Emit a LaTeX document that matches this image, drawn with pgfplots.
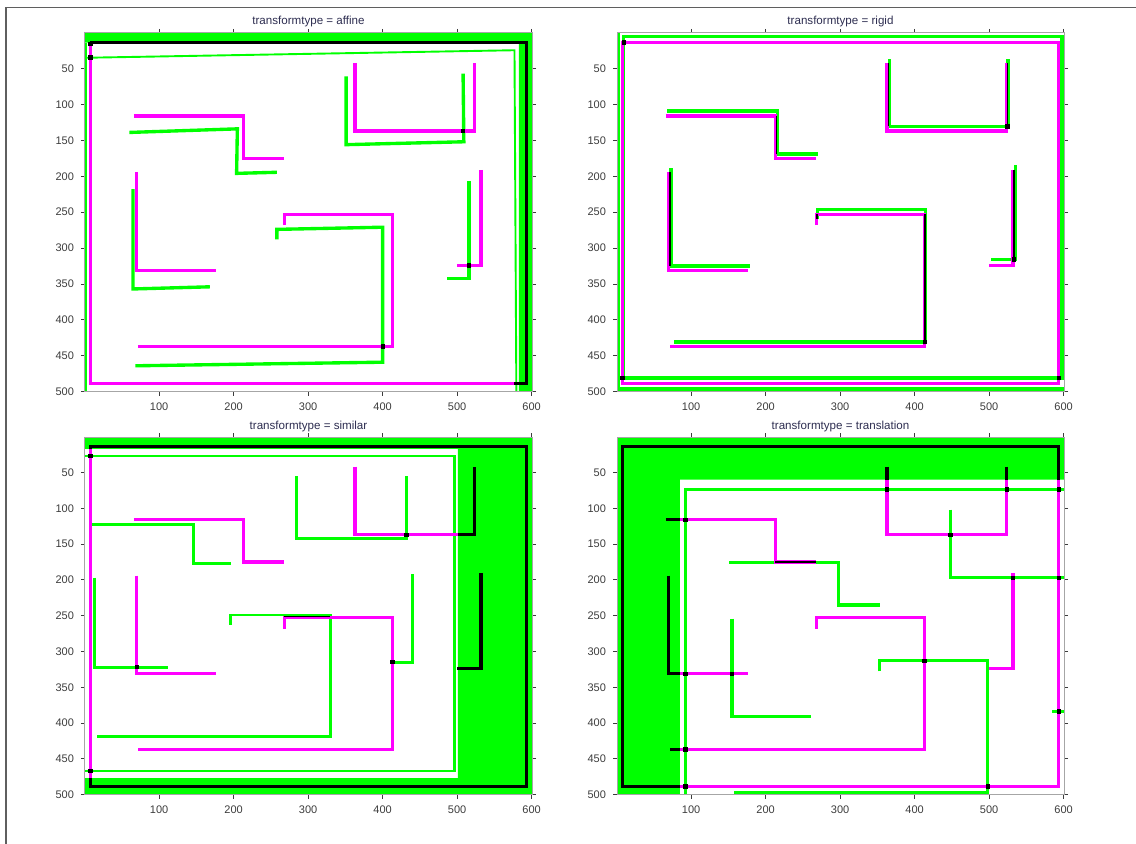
\documentclass[border=0pt]{standalone}
\usepackage{pgfplots}
\pgfplotsset{compat=1.18}
\usepackage{fontspec}
\setmainfont{Liberation Sans}
\definecolor{fg}{RGB}{0,255,0}
\definecolor{mg}{RGB}{255,0,255}
\definecolor{tickc}{RGB}{60,60,60}
\definecolor{titc}{RGB}{45,45,80}
\definecolor{framec}{RGB}{95,95,95}
\pgfplotsset{
  every axis title shift=0pt,
  mazeax/.style={
    scale only axis, width=223.5pt,
    xmin=0.5, xmax=600.5, ymin=0.5, ymax=500.5, y dir=reverse,
    xtick={100,200,300,400,500,600}, ytick={50,100,150,200,250,300,350,400,450,500},
    tick align=outside, xtick pos=both, ytick pos=both,
    xticklabel pos=left, yticklabel pos=left,
    major tick length=2pt,
    tick style={color=tickc, line width=0.4pt},
    axis line style={color=gray!70, line width=0.5pt},
    axis on top=true,
    tick label style={font=\fontsize{5.5pt}{6pt}\selectfont, color=tickc},
    /pgf/number format/assume math mode=true,
    title style={font=\fontsize{5.8pt}{6pt}\selectfont, color=titc, at={(axis description cs:0.5,1)}, anchor=base, yshift=4pt, inner sep=0pt},
  },
  gl/.style={color=fg, line width=1.68pt, line join=miter, mark=none},
  gt/.style={color=fg, line width=0.95pt, line join=miter, mark=none},
  gm/.style={color=fg, line width=1.4pt, line join=miter, mark=none},
  ml/.style={color=mg, line width=1.68pt, line join=miter, mark=none},
  bl/.style={color=black, line width=1.68pt, line join=miter, mark=none},
  bs/.style={color=black, line width=0.6pt, mark=none},
  bd/.style={only marks, mark=square*, mark size=0.85pt, color=black, mark options={draw=none, fill=black}},
  gf/.style={fill=fg, draw=none, mark=none},
}
\begin{document}
\begin{tikzpicture}
\useasboundingbox (0,0) rectangle (568pt,-422pt);
\draw[color=framec, line width=0.6pt] (3pt,-422pt) -- (3pt,-3.6pt) -- (568pt,-3.6pt);

% ---------------- affine ----------------
\begin{axis}[mazeax, height=179.5pt, at={(42.5pt,-16.5pt)}, anchor=north west, title={transformtype = affine}]
\addplot[gf] coordinates {(0.5,0.5) (600.5,0.5) (600.5,500.5) (583,500.5) (583,14) (0.5,14)} -- cycle;
\addplot[gf] coordinates {(0.5,14) (3.5,14) (3.5,500.5) (0.5,500.5)} -- cycle;
\addplot[gt] coordinates {(0.5,35) (577,24.5) (579.5,500.5)};
\addplot[gl] coordinates {(351,61) (351,156) (509,152) (508,57)};
\addplot[gl] coordinates {(60,139) (205,134) (204,196) (258,194.5)};
\addplot[gl] coordinates {(65,218) (65,357) (168,354)};
\addplot[gl] coordinates {(258,288) (258,274) (400,271) (400,459) (68,464)};
\addplot[gl] coordinates {(516,207) (516,342) (486,342)};
\addplot[ml] coordinates {(577,488.5) (7.5,488.5) (7.5,13.5)};
\addplot[ml] coordinates {(363,42) (363,137) (523.5,137) (523.5,42)};
\addplot[ml] coordinates {(66,116) (213,116) (213,175) (268,175)};
\addplot[ml] coordinates {(70,194) (70,331) (176,331)};
\addplot[ml] coordinates {(268,268) (268,253) (413,253) (413,437) (72,437)};
\addplot[ml] coordinates {(532,191) (532,324) (500,324)};
\addplot[bl] coordinates {(7.5,13.5) (593.5,13.5) (593.5,488.5) (577,488.5)};
\addplot[bd] coordinates {(508,137) (516,324) (400,437) (7.5,34.5) (7.5,16)};
\end{axis}

% ---------------- rigid ----------------
\begin{axis}[mazeax, height=179.5pt, at={(308.5pt,-16.5pt)}, anchor=north west, title={transformtype = rigid}]
\addplot[gf] coordinates {(0.5,0.5) (4,0.5) (4,500.5) (0.5,500.5)} -- cycle;
\addplot[gf] coordinates {(0.5,493) (600.5,493) (600.5,500.5) (0.5,500.5)} -- cycle;
\addplot[gl] coordinates {(9.5,5.5) (598,5.5) (598,481) (9.5,481)} -- cycle;
\addplot[gl] coordinates {(366,37) (366,130.5) (525.5,130.5) (525.5,37)};
\addplot[gl] coordinates {(68,109) (216,109) (216,169) (270,169)};
\addplot[gl] coordinates {(73,189) (73,325) (179,325)};
\addplot[gl] coordinates {(270,260) (270,246) (415,246) (415,431) (77,431)};
\addplot[gl] coordinates {(535,184) (535,316) (503,316)};
\addplot[ml] coordinates {(7.5,13.5) (593.5,13.5) (593.5,488.5) (7.5,488.5)} -- cycle;
\addplot[ml] coordinates {(363,42) (363,137) (523.5,137) (523.5,42)};
\addplot[ml] coordinates {(66,116) (213,116) (213,175) (268,175)};
\addplot[ml] coordinates {(70,194) (70,331) (176,331)};
\addplot[ml] coordinates {(268,268) (268,253) (413,253) (413,437) (72,437)};
\addplot[ml] coordinates {(532,191) (532,324) (500,324)};
\addplot[bs] coordinates {(524.5,42) (524.5,130.5)};
\addplot[bs] coordinates {(364.5,42) (364.5,130.5)};
\addplot[bs] coordinates {(214.5,116) (214.5,169)};
\addplot[bs] coordinates {(71.5,194) (71.5,325)};
\addplot[bs] coordinates {(414,253) (414,431)};
\addplot[bs] coordinates {(533.5,191) (533.5,316)};
\addplot[bs] coordinates {(269,253) (269,260)};
\addplot[bd] coordinates {(9.5,13.5) (594,481) (7.5,481) (524.5,130.5) (414,431) (533.5,316)};
\end{axis}

% ---------------- similar ----------------
\begin{axis}[mazeax, height=179pt, at={(42.5pt,-218.5pt)}, anchor=north west, title={transformtype = similar}]
\addplot[gf] coordinates {(0.5,0.5) (600.5,0.5) (600.5,500.5) (0.5,500.5) (0.5,477) (501,477) (501,17) (0.5,17)} -- cycle;
\addplot[gm] coordinates {(-43,27) (497,27) (497,467) (-43,467)};
\addplot[gm] coordinates {(284,55) (284,142) (432,142) (432,55)};
\addplot[gm] coordinates {(9,123) (146,123) (146,177) (196,177)};
\addplot[gm] coordinates {(13,197) (13,322) (112,322)};
\addplot[gm] coordinates {(196,263) (196,249) (330,249) (330,419) (16,419)};
\addplot[gm] coordinates {(440,192) (440,315) (412,315)};
\addplot[bl] coordinates {(7.5,13.5) (593.5,13.5) (593.5,488.5) (7.5,488.5)} -- cycle;
\addplot[ml] coordinates {(7.5,17.5) (7.5,476.5)};
\addplot[ml] coordinates {(363,42) (363,137) (501,137)};
\addplot[ml] coordinates {(66,116) (213,116) (213,175) (268,175)};
\addplot[ml] coordinates {(70,194) (70,331) (176,331)};
\addplot[ml] coordinates {(268,268) (268,253) (413,253) (413,437) (72,437)};
\addplot[bl] coordinates {(501,137) (523.5,137) (523.5,42)};
\addplot[bl] coordinates {(532,191) (532,324) (500,324)};
\addplot[bs, line width=0.75pt] coordinates {(268,251) (330,251)};
\addplot[bd] coordinates {(432,137) (70,322) (413,315) (7.5,27) (7.5,467)};
\end{axis}

% ---------------- translation ----------------
\begin{axis}[mazeax, height=179pt, at={(308.5pt,-218.5pt)}, anchor=north west, title={transformtype = translation}]
\addplot[gf] coordinates {(0.5,0.5) (600.5,0.5) (600.5,60) (85,60) (85,500.5) (0.5,500.5)} -- cycle;
\addplot[gl] coordinates {(650,73.5) (92.5,73.5) (92.5,550)};
\addplot[gl] coordinates {(448,102) (448,197) (608.5,197) (608.5,102)};
\addplot[gl] coordinates {(151,176) (298,176) (298,235) (353,235)};
\addplot[gl] coordinates {(155,254) (155,391) (261,391)};
\addplot[gl] coordinates {(353,328) (353,313) (498,313) (498,497) (157,497)};
\addplot[gl] coordinates {(617,251) (617,384) (585,384)};
\addplot[ml] coordinates {(593.5,60) (593.5,488.5) (85,488.5)};
\addplot[ml] coordinates {(363,60) (363,137) (523.5,137) (523.5,60)};
\addplot[ml] coordinates {(85,116) (213,116) (213,175) (268,175)};
\addplot[ml] coordinates {(85,331) (176,331)};
\addplot[ml] coordinates {(268,268) (268,253) (413,253) (413,437) (85,437)};
\addplot[ml] coordinates {(532,191) (532,324) (500,324)};
\addplot[bl] coordinates {(85,488.5) (7.5,488.5) (7.5,13.5) (593.5,13.5) (593.5,60)};
\addplot[bl] coordinates {(363,42) (363,60)};
\addplot[bl] coordinates {(523.5,42) (523.5,60)};
\addplot[bl] coordinates {(66,116) (85,116)};
\addplot[bl] coordinates {(70,194) (70,331) (85,331)};
\addplot[bl] coordinates {(72,437) (85,437)};
\addplot[bs, line width=1.2pt] coordinates {(213,175.5) (268,175.5)};
\addplot[bd] coordinates {(92.5,116) (92.5,331) (92.5,437) (92.5,488.5) (363,73.5) (523.5,73.5) (593.5,73.5) (448,137) (532,197) (593.5,197) (155,331) (413,313) (498,488.5) (593.5,384)};
\end{axis}
\end{tikzpicture}
\end{document}
